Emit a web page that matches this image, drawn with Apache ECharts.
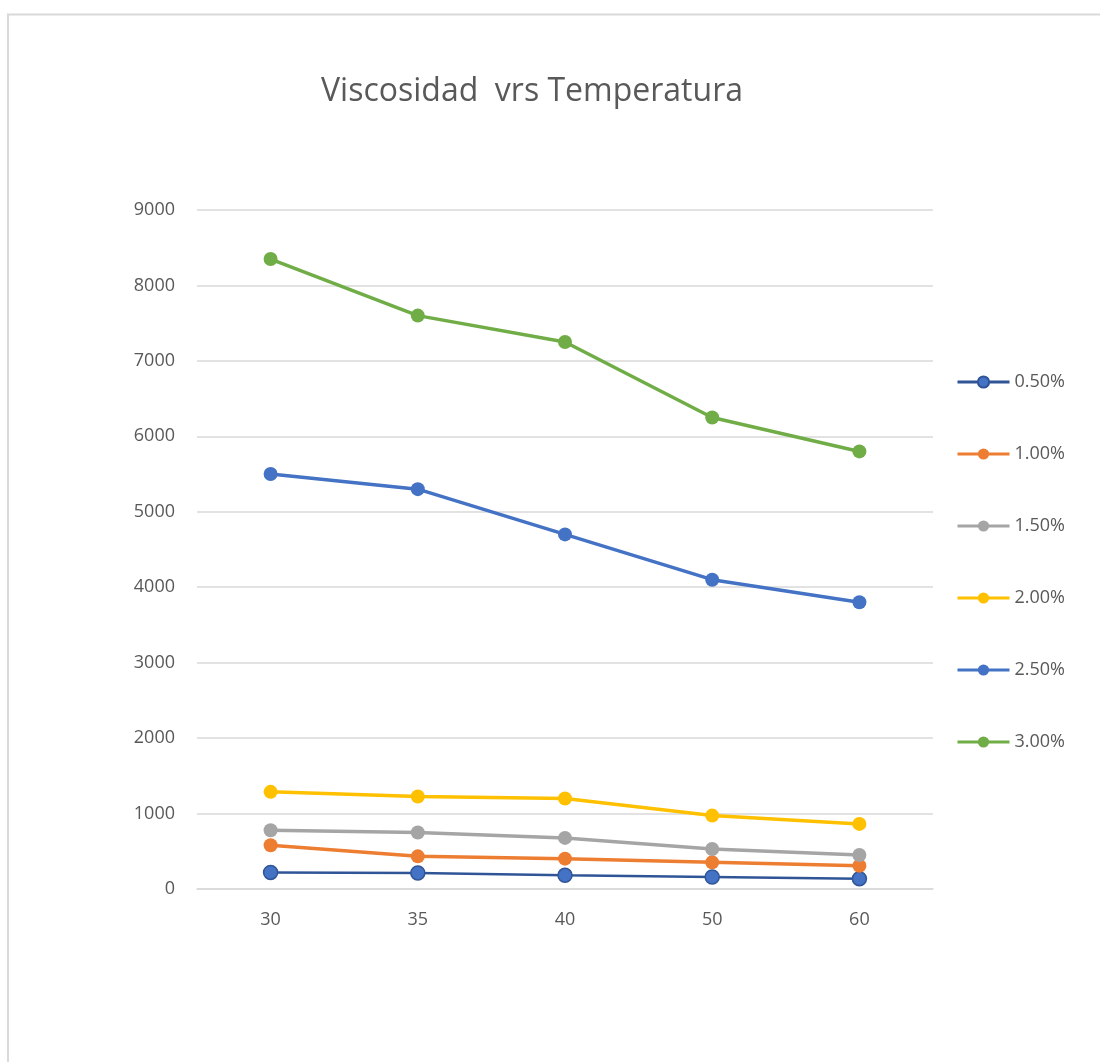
<!DOCTYPE html>
<html>
<head>
<meta charset="utf-8">
<title>Viscosidad vrs Temperatura</title>
<script src="https://cdn.jsdelivr.net/npm/echarts@6/dist/echarts.min.js"></script>
<style>
  html, body { margin: 0; padding: 0; background: #ffffff; }
  #chart { width: 1100px; height: 1062px; }
</style>
</head>
<body>
<div id="chart"></div>
<script>
// Temperatures on the x axis
const temperaturas = ['30', '35', '40', '50', '60'];

// Viscosity per concentration
const serie050 = [220, 212, 181, 159, 137];
const serie100 = [579, 433, 402, 353, 309];
const serie150 = [778, 748, 677, 531, 451];
const serie200 = [1288, 1226, 1199, 973, 863];
const serie250 = [5500, 5300, 4700, 4100, 3800];
const serie300 = [8350, 7600, 7250, 6250, 5800];

const nombres = ['0.50%', '1.00%', '1.50%', '2.00%', '2.50%', '3.00%'];

const FONT = '"Open Sans", "Noto Sans", sans-serif';
const TEXT = '#595959';

function linea(nombre, datos, color, ancho, borde) {
  return {
    name: nombre,
    type: 'line',
    data: datos,
    symbol: 'circle',
    symbolSize: 14,
    lineStyle: { color: color, width: ancho },
    itemStyle: borde
      ? { color: '#4472C4', borderColor: borde, borderWidth: 1.5 }
      : { color: color },
    emphasis: { disabled: true },
    z: 3
  };
}

const chart = echarts.init(document.getElementById('chart'));
chart.setOption({
  animation: false,
  backgroundColor: '#ffffff',
  graphic: [{
    type: 'rect',
    shape: { x: 8, y: 14.5, width: 1110, height: 1080 },
    style: { fill: 'none', stroke: '#D9D9D9', lineWidth: 2 },
    silent: true,
    z: -1
  }],
  title: {
    text: 'Viscosidad  vrs Temperatura',
    left: 527,
    textAlign: 'center',
    top: 71,
    textStyle: { fontFamily: FONT, fontSize: 32, fontWeight: 'normal', color: TEXT }
  },
  legend: {
    orient: 'vertical',
    left: 951,
    top: 368,
    itemWidth: 52,
    itemHeight: 14,
    itemGap: 54,
    lineStyle: { width: 3 },
    textStyle: { fontFamily: FONT, fontSize: 18, color: TEXT, lineHeight: 14 },
    data: nombres
  },
  grid: { left: 197, right: 167, top: 210, bottom: 173 },
  xAxis: {
    type: 'category',
    data: temperaturas,
    boundaryGap: true,
    axisLine: { show: true, lineStyle: { color: '#D9D9D9', width: 1.5 } },
    axisTick: { show: false },
    axisLabel: { fontFamily: FONT, fontSize: 18, color: TEXT, margin: 22 }
  },
  yAxis: {
    type: 'value',
    min: 0,
    max: 9000,
    interval: 1000,
    axisLine: { show: false },
    axisTick: { show: false },
    splitLine: { lineStyle: { color: '#D9D9D9', width: 1.5 } },
    axisLabel: {
      fontFamily: FONT, fontSize: 18, color: TEXT, margin: 22,
      formatter: (v) => String(v)
    }
  },
  series: [
    linea(nombres[0], serie050, '#2F5597', 2.5, '#2F5597'),
    linea(nombres[1], serie100, '#ED7D31', 3.5),
    linea(nombres[2], serie150, '#A5A5A5', 3.5),
    linea(nombres[3], serie200, '#FFC000', 3.5),
    linea(nombres[4], serie250, '#4472C4', 3.5),
    linea(nombres[5], serie300, '#70AD47', 3.5)
  ]
});
</script>
</body>
</html>
